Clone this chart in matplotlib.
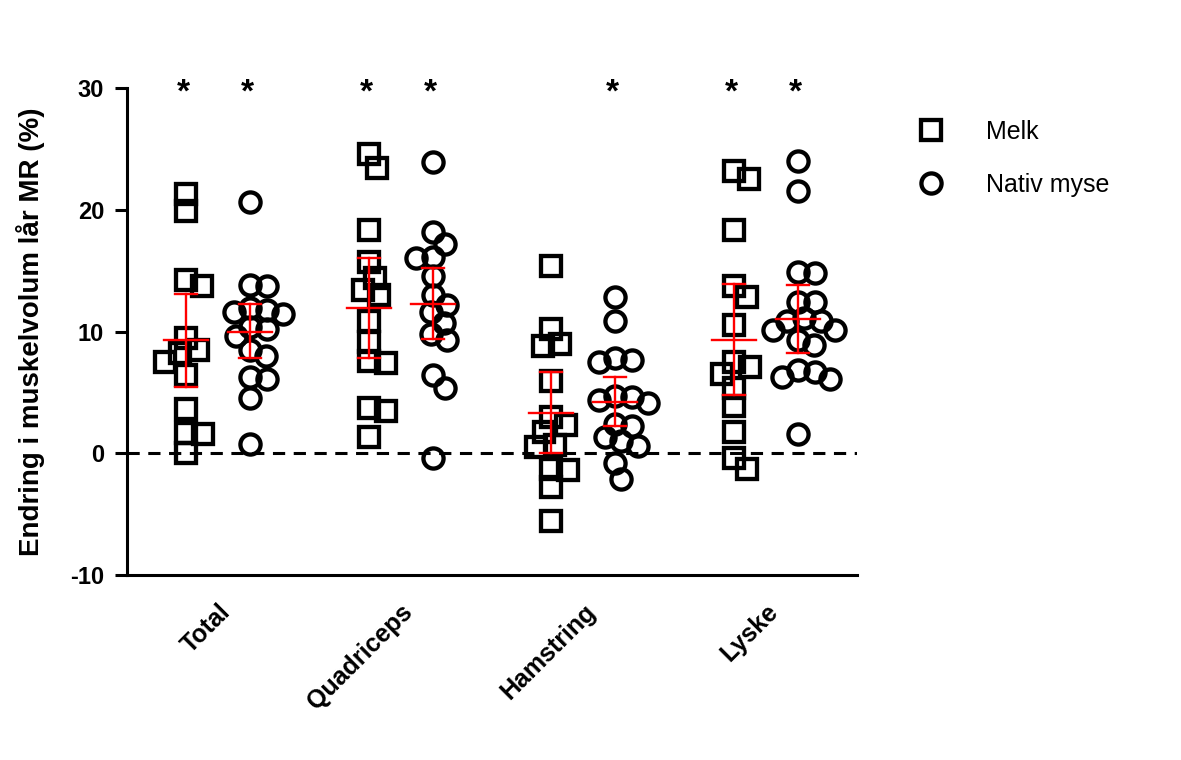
import matplotlib
matplotlib.use("Agg")
import matplotlib.pyplot as plt
import numpy as np
from matplotlib.lines import Line2D

plt.rcParams["font.family"] = ["Liberation Sans", "DejaVu Sans"]
plt.rcParams["axes.unicode_minus"] = False

categories = ["Total", "Quadriceps", "Hamstring", "Lyske"]
series_names = ["Melk", "Nativ myse"]

# individual changes (%)
melk = [
    [21.3, 19.9, 14.2, 13.7, 9.5, 8.5, 8.2, 7.5, 6.4, 3.6, 1.7, 1.6, 0.0],
    [24.6, 23.4, 18.3, 15.7, 14.4, 13.4, 13.0, 10.9, 9.1, 7.6, 7.4, 3.7, 3.5, 1.3],
    [15.4, 10.2, 9.0, 8.8, 5.9, 3.0, 2.3, 1.75, 0.7, 0.5, -1.3, -1.4, -2.8, -5.6],
    [23.2, 22.5, 18.3, 13.7, 12.8, 10.5, 7.5, 7.1, 6.5, 5.4, 3.9, 1.75, -0.4, -1.3],
]
nativ_myse = [
    [20.6, 13.8, 13.7, 11.9, 11.8, 11.6, 11.4, 10.4, 10.2, 9.6, 8.5, 8.0, 6.3, 6.1, 4.5, 0.8],
    [23.9, 18.2, 17.2, 16.1, 16.0, 14.6, 13.0, 12.2, 11.6, 10.7, 9.8, 9.3, 6.4, 5.4, -0.4],
    [12.8, 10.9, 7.8, 7.7, 7.5, 4.7, 4.6, 4.4, 4.1, 2.4, 2.2, 1.3, 1.0, 0.6, -0.8, -2.1],
    [24.0, 21.5, 14.9, 14.8, 12.4, 12.4, 11.1, 10.9, 10.9, 10.1, 10.1, 9.3, 8.9,
     6.8, 6.7, 6.3, 6.1, 1.6],
]

# mean and interval (red bars)
melk_mean = [9.3, 11.9, 3.3, 9.3]
melk_lo = [5.45, 7.8, 0.0, 4.8]
melk_hi = [13.05, 16.0, 6.7, 13.9]
myse_mean = [10.0, 12.3, 4.2, 11.0]
myse_lo = [7.8, 9.4, 2.2, 8.2]
myse_hi = [12.3, 15.2, 6.3, 13.8]

# significance stars: [melk, nativ myse] per category
stars = [[True, True], [True, True], [False, True], [True, True]]


def swarm_offsets(ax, xc, vals, d=17.0):
    # simple beeswarm in pixel space so markers spread sideways
    vals = np.asarray(vals, dtype=float)
    pix = ax.transData.transform(np.column_stack([np.full(len(vals), xc), vals]))
    ys = pix[:, 1]
    placed = []
    offs = np.zeros(len(vals))
    for i in np.argsort(-vals):
        y = ys[i]
        cands = [0.0]
        for px, py in placed:
            dy = abs(py - y)
            if dy < d:
                dx = np.sqrt(d * d - dy * dy)
                cands += [px + dx, px - dx]
        cands.sort(key=abs)
        chosen = 0.0
        for c in cands:
            if all((c - px) ** 2 + (y - py) ** 2 >= d * d - 1e-6 for px, py in placed):
                chosen = c
                break
        placed.append((chosen, y))
        offs[i] = chosen
    px_per_unit = ax.transData.transform((1, 0))[0] - ax.transData.transform((0, 0))[0]
    return offs / px_per_unit


fig = plt.figure(figsize=(11.81, 7.6), dpi=100)
ax = fig.add_axes([0.1075, 0.2434, 0.6182, 0.6408])
ax.set_xlim(-0.5, 3.5)
ax.set_ylim(-10, 30)

shift = 0.175
mk = dict(markersize=14.5, markerfacecolor="none", markeredgecolor="black",
          markeredgewidth=3.1, linestyle="none")

groups = [
    (melk, melk_mean, melk_lo, melk_hi, "s", -shift),
    (nativ_myse, myse_mean, myse_lo, myse_hi, "o", shift),
]
for data, means, lo, hi, marker, off in groups:
    for i, vals in enumerate(data):
        xc = i + off
        xo = swarm_offsets(ax, xc, vals)
        ax.plot(xc + xo, vals, marker=marker, zorder=3, **mk)
        ax.plot([xc - 0.12, xc + 0.12], [means[i]] * 2, color="red", lw=1.7, zorder=4)
        ax.plot([xc, xc], [lo[i], hi[i]], color="red", lw=1.7, zorder=4)
        for yv in (lo[i], hi[i]):
            ax.plot([xc - 0.06, xc + 0.06], [yv] * 2, color="red", lw=1.7, zorder=4)

for i, flags in enumerate(stars):
    for j, flag in enumerate(flags):
        if flag:
            ax.text(i + (-shift if j == 0 else shift) - 0.015, 29.6, "*", ha="center",
                    va="center", fontsize=24, fontweight="bold")

ax.axhline(0, color="black", lw=2.2, ls=(0, (4, 2.8)), zorder=2)

for s in ("top", "right"):
    ax.spines[s].set_visible(False)
for s in ("left", "bottom"):
    ax.spines[s].set_linewidth(2.2)

ax.set_yticks([-10, 0, 10, 20, 30])
ax.tick_params(axis="y", length=8.5, width=2.2, pad=8, labelsize=17)
ax.tick_params(axis="x", length=0, pad=18)
for lab in ax.get_yticklabels():
    lab.set_fontweight("bold")

ax.set_xticks(range(len(categories)))
ax.set_xticklabels(categories, rotation=45, ha="right", va="top",
                   rotation_mode="anchor", fontsize=18, fontweight="bold")

ax.set_ylabel("Endring i muskelvolum lår MR (%)", fontsize=20, fontweight="bold",
              labelpad=18)

handles = [
    Line2D([], [], marker="s", **mk),
    Line2D([], [], marker="o", **mk),
]
ax.legend(handles, series_names, loc="upper left", bbox_to_anchor=(1.07, 0.955),
          frameon=False, fontsize=18, handlelength=1.0, handletextpad=1.7,
          labelspacing=1.15, borderaxespad=0)

fig.savefig("out.png", dpi=100)
